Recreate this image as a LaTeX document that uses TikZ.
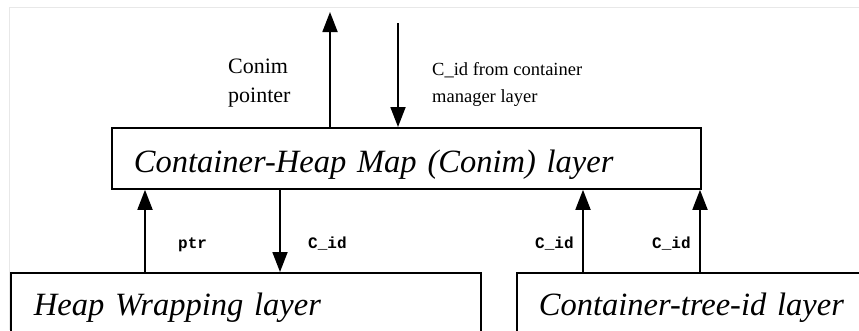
\documentclass[tikz,border=0pt]{standalone}
\usepackage{fontspec}
\setmainfont{Liberation Serif}
\newfontfamily\codefont{Liberation Mono}
\usetikzlibrary{arrows.meta}

\begin{document}
\begin{tikzpicture}[x=1pt, y=-1pt,
  layer/.style={draw, line width=1.8pt, anchor=north west, align=left,
    inner ysep=0pt, font=\fontsize{32.5}{36}\selectfont\itshape},
  flow/.style={line width=1.8pt, -{Triangle[length=20pt, width=15pt]}},
  note/.style={anchor=base west, align=left, inner sep=0pt},
  code/.style={anchor=base west, inner sep=0pt,
    font=\fontsize{16}{18}\codefont\bfseries}]
  \path[use as bounding box, clip] (0,0) rectangle (859,330);
  \draw[gray!18, line width=1pt] (9,330) -- (9,7) -- (859,7);

  \node[layer, text width=545pt, inner xsep=22pt, text height=45pt, text depth=16pt]
    (conim) at (111,127) {Container-Heap Map (Conim) layer};
  \node[layer, text width=424pt, inner xsep=23pt, text height=43pt, text depth=21pt]
    (heapwrap) at (10,272) {Heap Wrapping layer};
  \node[layer, text width=320pt, inner xsep=22pt, text height=43pt, text depth=21pt]
    (treeid) at (516,272) {Container-tree-id layer};

  \coordinate (conimout) at (330,12);
  \coordinate (mgrin) at (398,23);

  \node[note, font=\fontsize{22}{29}\selectfont] (lblconim) at (228,102) {Conim\\pointer};
  \node[note, font=\fontsize{18.5}{27}\selectfont] (lblmgr) at (432,102) {C\_id from container\\manager layer};
  \node[code] (lblptr) at (178,248) {ptr};
  \node[code] (lblcid) at (308,248) {C\_id};
  \node[code] (lblcidl) at (535,248) {C\_id};
  \node[code] (lblcidr) at (652,248) {C\_id};

  \draw[flow] (conim.north -| conimout) -- (conimout);
  \draw[flow] (mgrin) -- (mgrin |- conim.north);
  \draw[flow] (145,0 |- heapwrap.north) -- (145,0 |- conim.south);
  \draw[flow] (280,0 |- conim.south) -- (280,0 |- heapwrap.north);
  \draw[flow] (583,0 |- treeid.north) -- (583,0 |- conim.south);
  \draw[flow] (700,0 |- treeid.north) -- (700,0 |- conim.south);
\end{tikzpicture}
\end{document}
